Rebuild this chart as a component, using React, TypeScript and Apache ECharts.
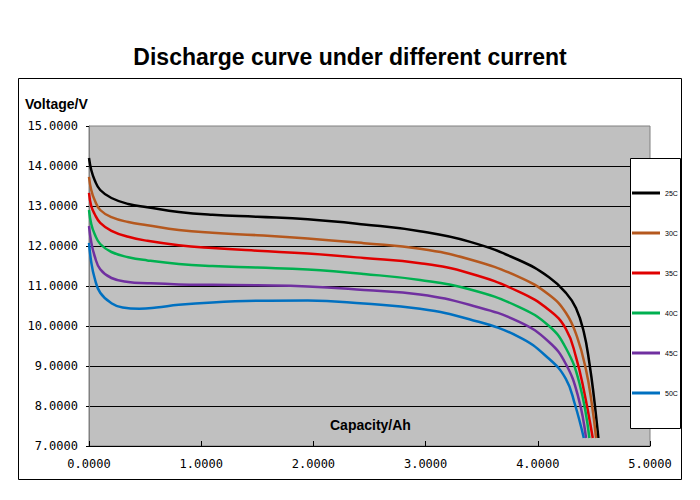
import React, { useEffect, useRef } from "react";
import * as echarts from "echarts";

const seriesNames = ["25C", "30C", "35C", "40C", "45C", "50C"];
const seriesColors = ["#000000", "#b5581e", "#e00000", "#00b050", "#7030a0", "#0070c0"];

const c25: [number, number][] = [
  [0, 14.2], [0.02, 13.9], [0.05, 13.65], [0.1, 13.4], [0.2, 13.2], [0.35, 13.05], [0.52, 12.97],
  [0.8, 12.85], [1.1, 12.78], [1.5, 12.73], [1.95, 12.67], [2.45, 12.54], [2.95, 12.37],
  [3.39, 12.11], [3.83, 11.65], [4.1, 11.22], [4.25, 10.83], [4.34, 10.45], [4.41, 9.85], [4.46, 9.07],
  [4.5, 8.23], [4.54, 7.2],
];
const c30: [number, number][] = [
  [0, 13.73], [0.02, 13.4], [0.05, 13.15], [0.1, 12.9], [0.2, 12.72], [0.35, 12.6], [0.52, 12.52],
  [0.8, 12.4], [1.1, 12.33], [1.5, 12.27], [1.95, 12.19], [2.45, 12.07], [2.95, 11.93],
  [3.39, 11.67], [3.83, 11.23], [4.1, 10.78], [4.25, 10.33], [4.35, 9.73], [4.43, 8.9],
  [4.48, 8.08], [4.52, 7.2],
];
const c35: [number, number][] = [
  [0, 13.33], [0.02, 13.0], [0.05, 12.8], [0.1, 12.58], [0.2, 12.38], [0.35, 12.23], [0.52, 12.13],
  [0.8, 12.02], [1.1, 11.95], [1.5, 11.88], [1.95, 11.81], [2.45, 11.7], [2.95, 11.57],
  [3.39, 11.32], [3.83, 10.86], [4.1, 10.4], [4.25, 9.93], [4.34, 9.23], [4.41, 8.4], [4.49, 7.2],
];
const c40: [number, number][] = [
  [0, 12.9], [0.02, 12.55], [0.05, 12.3], [0.1, 12.05], [0.2, 11.85], [0.35, 11.72], [0.52, 11.64],
  [0.8, 11.55], [1.1, 11.5], [1.5, 11.46], [1.95, 11.41], [2.45, 11.3], [2.95, 11.15],
  [3.39, 10.92], [3.83, 10.48], [4.1, 10.0], [4.25, 9.45], [4.37, 8.58], [4.46, 7.2],
];
const c45: [number, number][] = [
  [0, 12.5], [0.02, 12.1], [0.05, 11.75], [0.1, 11.42], [0.2, 11.2], [0.35, 11.1], [0.52, 11.07],
  [0.8, 11.04], [1.1, 11.03], [1.5, 11.02], [1.95, 10.99], [2.45, 10.9], [2.95, 10.79],
  [3.39, 10.53], [3.83, 10.11], [4.1, 9.6], [4.25, 9.05], [4.36, 8.23], [4.43, 7.2],
];
const c50: [number, number][] = [
  [0, 12.08], [0.02, 11.6], [0.05, 11.2], [0.1, 10.83], [0.2, 10.57], [0.3, 10.46], [0.45, 10.43],
  [0.6, 10.46], [0.8, 10.53], [1.1, 10.59], [1.5, 10.63], [1.95, 10.64], [2.45, 10.56],
  [2.95, 10.43], [3.39, 10.17], [3.83, 9.73], [4.1, 9.18], [4.25, 8.68], [4.33, 8.05], [4.41, 7.2],
];
const allData = [c25, c30, c35, c40, c45, c50];

export default function App() {
  const ref = useRef<HTMLDivElement>(null);
  useEffect(() => {
    if (!ref.current) return;
    const chart = echarts.init(ref.current, undefined, { renderer: "svg" });
    const numFont = "'DejaVu Sans Mono', monospace";
    chart.setOption({
      animation: false,
      backgroundColor: "#ffffff",
      title: {
        text: "Discharge curve under different current",
        left: "center",
        top: 40,
        textStyle: { fontFamily: "'Liberation Sans', Arial, sans-serif", fontWeight: "bold", fontSize: 23, color: "#000" },
      },
      grid: {
        left: 89,
        top: 126,
        width: 561,
        height: 320,
        show: true,
        backgroundColor: "#c0c0c0",
        borderColor: "#808080",
        borderWidth: 1,
      },
      legend: {
        orient: "vertical",
        left: 632,
        top: 188,
        padding: 0,
        itemGap: 30,
        itemWidth: 28,
        itemHeight: 3,
        icon: "rect",
        data: seriesNames,
        textStyle: { fontSize: 7, lineHeight: 10, height: 10, color: "#000", fontFamily: "'Liberation Sans', Arial, sans-serif" },
        z: 10,
      },
      xAxis: {
        type: "value",
        min: 0,
        max: 5,
        interval: 1,
        axisLine: { show: true, lineStyle: { color: "#000", width: 1 } },
        axisTick: { show: true, inside: true, length: 5, lineStyle: { color: "#000" } },
        splitLine: { show: false },
        axisLabel: {
          formatter: (v: number) => v.toFixed(4),
          fontFamily: numFont,
          fontSize: 12,
          color: "#000",
          margin: 12,
        },
      },
      yAxis: {
        type: "value",
        min: 7,
        max: 15,
        interval: 1,
        axisLine: { show: true, lineStyle: { color: "#808080", width: 1 } },
        axisTick: { show: true, length: 3, lineStyle: { color: "#000" } },
        splitLine: { show: true, showMinLine: false, showMaxLine: false, lineStyle: { color: "#000", width: 1 } },
        axisLabel: {
          formatter: (v: number) => v.toFixed(4),
          fontFamily: numFont,
          fontSize: 12,
          color: "#000",
          margin: 11,
        },
      },
      graphic: [
        {
          type: "rect",
          shape: { x: 18.5, y: 78.5, width: 663, height: 401 },
          style: { fill: "none", stroke: "#000", lineWidth: 1 },
          z: 1,
          silent: true,
        },
        {
          type: "rect",
          shape: { x: 630.5, y: 158.5, width: 50, height: 270 },
          style: { fill: "#ffffff", stroke: "#000", lineWidth: 1 },
          z: 5,
          silent: true,
        },
        {
          type: "text",
          left: 25,
          top: 97,
          style: { text: "Voltage/V", font: "bold 14px 'Liberation Sans', Arial, sans-serif", fill: "#000" },
          z: 6,
        },
        {
          type: "text",
          left: 330,
          top: 418,
          style: { text: "Capacity/Ah", font: "bold 14px 'Liberation Sans', Arial, sans-serif", fill: "#000" },
          z: 6,
        },
      ],
      series: allData.map((d, i) => ({
        name: seriesNames[i],
        type: "line",
        data: d,
        smooth: 0.45,
        showSymbol: false,
        symbol: "none",
        lineStyle: { color: seriesColors[i], width: 2.5 },
        itemStyle: { color: seriesColors[i] },
        z: 3,
      })),
    });
    return () => chart.dispose();
  }, []);
  return (
    <div
      ref={ref}
      style={{ position: "fixed", left: 0, top: 0, width: 700, height: 500 }}
    />
  );
}
